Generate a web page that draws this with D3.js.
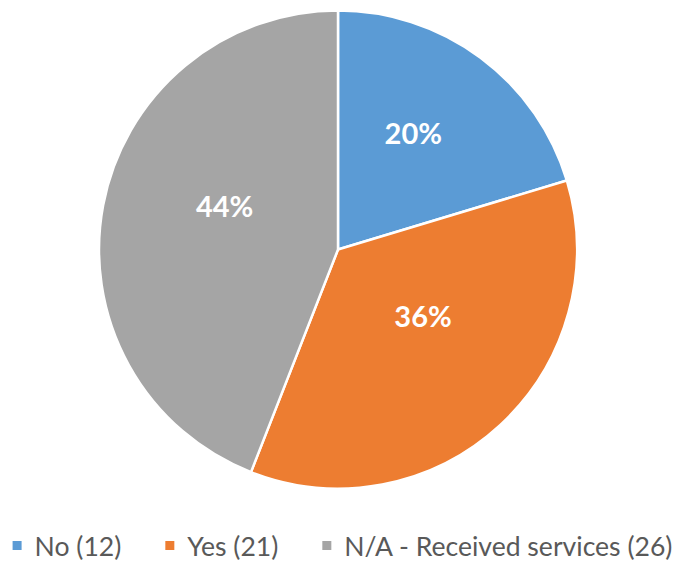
<!DOCTYPE html>
<html>
<head>
<meta charset="utf-8">
<script src="https://cdn.jsdelivr.net/npm/d3@7"></script>
<style>
html,body{margin:0;padding:0;background:#fff;}
svg{display:block;}
</style>
</head>
<body>
<svg id="chart" width="678" height="561"></svg>
<script>
const categories = ["No (12)", "Yes (21)", "N/A - Received services (26)"];
const values = [12, 21, 26];
const colors = ["#5B9BD5", "#ED7D31", "#A5A5A5"];

const W = 678, H = 561;
const cx = 338, cy = 249.5, R = 239;
const svg = d3.select("#chart");
const g = svg.append("g").attr("transform", `translate(${cx},${cy})`);

const data = categories.map((c, i) => ({cat: c, value: values[i], color: colors[i]}));
const total = d3.sum(values);
const pie = d3.pie().sort(null).value(d => d.value);
const arcs = pie(data);
const arc = d3.arc().innerRadius(0).outerRadius(R);
const labelArc = d3.arc().innerRadius(R * 0.5).outerRadius(R * 0.5);

g.selectAll("path").data(arcs).join("path")
  .attr("d", arc)
  .attr("fill", d => d.data.color)
  .attr("stroke", "#fff")
  .attr("stroke-width", 2.5)
  .attr("stroke-linejoin", "round");

const pct = d3.format(".0%");
g.selectAll("text.lbl").data(arcs).join("text")
  .attr("class", "lbl")
  .attr("x", d => labelArc.centroid(d)[0] + 4)
  .attr("y", d => labelArc.centroid(d)[1] - 10)
  .attr("text-anchor", "middle")
  .attr("font-family", "Lato, 'Open Sans', sans-serif")
  .attr("font-weight", "bold")
  .attr("font-size", 29)
  .attr("fill", "#fff")
  .text(d => pct(d.data.value / total));

// Legend
const legend = svg.append("g");
const baseSize = 20;
const items = legend.selectAll("g").data(data).join("g");
const texts = items.append("text")
  .attr("font-family", "Lato, 'Open Sans', sans-serif")
  .attr("font-size", baseSize)
  .attr("fill", "#595959")
  .text(d => d.cat);
let widths = texts.nodes().map(n => n.getComputedTextLength());
const targetTotal = 506;
const fs = baseSize * targetTotal / d3.sum(widths);
texts.attr("font-size", fs);
widths = texts.nodes().map(n => n.getComputedTextLength());
const sq = 9, sqGap = 13, itemGap = 44;
const totalW = d3.sum(widths) + data.length * (sq + sqGap) + (data.length - 1) * itemGap;
let x0 = 342.5 - totalW / 2;
const baseline = 556;
items.each(function(d, i) {
  const it = d3.select(this);
  it.append("rect")
    .attr("x", x0).attr("y", 541)
    .attr("width", sq).attr("height", sq)
    .attr("fill", d.color);
  it.select("text").attr("x", x0 + sq + sqGap).attr("y", baseline);
  x0 += sq + sqGap + widths[i] + itemGap;
});
</script>
</body>
</html>
